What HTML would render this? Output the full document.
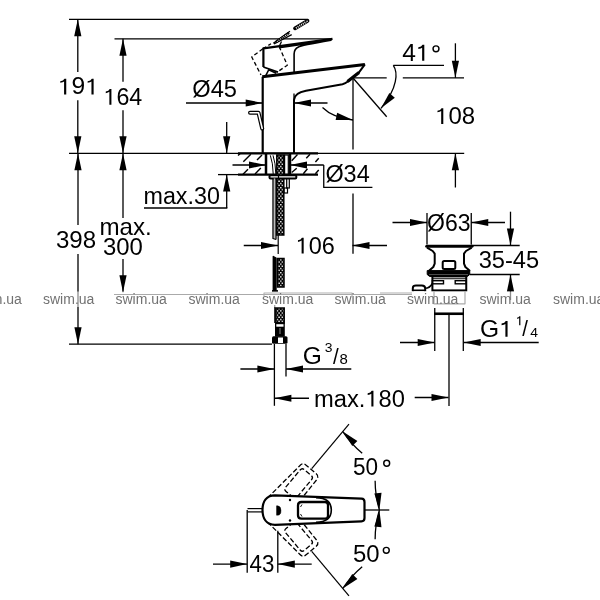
<!DOCTYPE html>
<html><head><meta charset="utf-8"><style>html,body{margin:0;padding:0;background:#fff;}svg{display:block;}text{font-family:"Liberation Sans",sans-serif;}</style></head>
<body><svg width="600" height="600" viewBox="0 0 600 600">
<rect width="600" height="600" fill="#fff"/>
<defs><pattern id="br" patternUnits="userSpaceOnUse" width="3.3" height="4.25" x="279.1" y="0">
<rect width="3.3" height="4.25" fill="#000"/><circle cx="1.65" cy="0.6" r="0.8" fill="#fff"/><circle cx="0" cy="2.7" r="0.8" fill="#fff"/><circle cx="3.3" cy="2.7" r="0.8" fill="#fff"/></pattern></defs>
<line x1="69.00" y1="19.30" x2="307.50" y2="19.30" stroke="#000" stroke-width="1.3" /><line x1="114.50" y1="38.80" x2="332.00" y2="38.80" stroke="#000" stroke-width="1.3" /><line x1="77.80" y1="19.30" x2="77.80" y2="72.00" stroke="#000" stroke-width="1.3" /><line x1="77.80" y1="100.30" x2="77.80" y2="153.30" stroke="#000" stroke-width="1.3" /><polygon points="77.80,19.30 74.20,36.30 81.40,36.30" fill="#000"/><polygon points="77.80,153.30 81.40,136.30 74.20,136.30" fill="#000"/><line x1="123.00" y1="38.80" x2="123.00" y2="81.70" stroke="#000" stroke-width="1.3" /><line x1="123.00" y1="110.30" x2="123.00" y2="153.30" stroke="#000" stroke-width="1.3" /><polygon points="123.00,38.80 119.40,55.80 126.60,55.80" fill="#000"/><polygon points="123.00,153.30 126.60,136.30 119.40,136.30" fill="#000"/><line x1="69.00" y1="153.30" x2="464.20" y2="153.30" stroke="#000" stroke-width="1.3" /><line x1="78.00" y1="153.30" x2="78.00" y2="225.00" stroke="#000" stroke-width="1.3" /><line x1="78.00" y1="254.00" x2="78.00" y2="344.20" stroke="#000" stroke-width="1.3" /><polygon points="78.00,153.30 74.40,170.30 81.60,170.30" fill="#000"/><polygon points="78.00,344.20 81.60,327.20 74.40,327.20" fill="#000"/><line x1="123.00" y1="153.30" x2="123.00" y2="218.00" stroke="#000" stroke-width="1.3" /><line x1="123.00" y1="259.00" x2="123.00" y2="292.30" stroke="#000" stroke-width="1.3" /><polygon points="123.00,153.30 119.40,170.30 126.60,170.30" fill="#000"/><polygon points="123.00,292.30 126.60,275.30 119.40,275.30" fill="#000"/><line x1="69.00" y1="344.20" x2="272.00" y2="344.20" stroke="#000" stroke-width="1.3" /><line x1="226.70" y1="153.30" x2="226.70" y2="122.00" stroke="#000" stroke-width="1.3" /><polygon points="226.70,153.30 230.30,136.30 223.10,136.30" fill="#000"/><line x1="226.70" y1="174.60" x2="226.70" y2="208.00" stroke="#000" stroke-width="1.3" /><polygon points="226.70,174.60 223.10,191.60 230.30,191.60" fill="#000"/><line x1="144.00" y1="208.00" x2="227.35" y2="208.00" stroke="#000" stroke-width="1.3" /><line x1="218.00" y1="174.60" x2="238.00" y2="174.60" stroke="#000" stroke-width="1.3" /><line x1="262.70" y1="103.00" x2="186.00" y2="103.00" stroke="#000" stroke-width="1.3" /><polygon points="262.70,103.00 245.70,99.40 245.70,106.60" fill="#000"/><line x1="294.00" y1="103.00" x2="327.50" y2="103.00" stroke="#000" stroke-width="1.3" /><polygon points="294.00,103.00 311.00,106.60 311.00,99.40" fill="#000"/><line x1="266.00" y1="165.00" x2="232.50" y2="165.00" stroke="#000" stroke-width="1.3" /><polygon points="266.00,165.00 249.00,161.40 249.00,168.60" fill="#000"/><line x1="290.00" y1="165.00" x2="323.75" y2="165.00" stroke="#000" stroke-width="1.3" /><polygon points="290.00,165.00 307.00,168.60 307.00,161.40" fill="#000"/><polyline points="323.75,165.00 323.75,187.40 372.40,187.40" fill="none" stroke="#000" stroke-width="1.3" stroke-linejoin="round" /><line x1="353.00" y1="77.80" x2="353.00" y2="149.60" stroke="#000" stroke-width="1.3" /><line x1="353.00" y1="193.60" x2="353.00" y2="253.75" stroke="#000" stroke-width="1.3" /><line x1="353.00" y1="77.80" x2="386.70" y2="77.80" stroke="#000" stroke-width="1.3" /><line x1="402.80" y1="77.80" x2="464.00" y2="77.80" stroke="#000" stroke-width="1.3" /><line x1="353.00" y1="78.00" x2="386.70" y2="116.70" stroke="#000" stroke-width="1.3" /><line x1="393.30" y1="65.30" x2="444.00" y2="65.30" stroke="#000" stroke-width="1.3" /><path d="M393.3,65.3 C398,72 398,88 381,108.3" fill="none" stroke="#000" stroke-width="1.3" stroke-linejoin="round" /><polygon points="381.00,108.30 394.81,97.75 389.35,93.06" fill="#000"/><line x1="455.40" y1="77.80" x2="455.40" y2="43.30" stroke="#000" stroke-width="1.3" /><polygon points="455.40,77.80 459.00,60.80 451.80,60.80" fill="#000"/><line x1="455.40" y1="153.30" x2="455.40" y2="187.50" stroke="#000" stroke-width="1.3" /><polygon points="455.40,153.30 451.80,170.30 459.00,170.30" fill="#000"/><path d="M322.5,107.5 C330,115 340,118.5 353,120" fill="none" stroke="#000" stroke-width="1.3" stroke-linejoin="round" /><polygon points="353.00,120.00 337.16,112.85 335.62,119.88" fill="#000"/><line x1="278.00" y1="245.50" x2="243.75" y2="245.50" stroke="#000" stroke-width="1.3" /><polygon points="278.00,245.50 261.00,241.90 261.00,249.10" fill="#000"/><line x1="352.50" y1="245.50" x2="387.00" y2="245.50" stroke="#000" stroke-width="1.3" /><polygon points="352.50,245.50 369.50,249.10 369.50,241.90" fill="#000"/><line x1="427.00" y1="213.00" x2="427.00" y2="244.50" stroke="#000" stroke-width="1.3" /><line x1="471.25" y1="213.00" x2="471.25" y2="244.50" stroke="#000" stroke-width="1.3" /><line x1="427.00" y1="222.50" x2="392.50" y2="222.50" stroke="#000" stroke-width="1.3" /><polygon points="427.00,222.50 410.00,218.90 410.00,226.10" fill="#000"/><line x1="471.25" y1="222.50" x2="505.00" y2="222.50" stroke="#000" stroke-width="1.3" /><polygon points="471.25,222.50 488.25,226.10 488.25,218.90" fill="#000"/><line x1="510.50" y1="245.50" x2="510.50" y2="211.70" stroke="#000" stroke-width="1.3" /><polygon points="510.50,245.50 514.10,228.50 506.90,228.50" fill="#000"/><line x1="471.00" y1="245.50" x2="519.70" y2="245.50" stroke="#000" stroke-width="1.3" /><line x1="470.00" y1="274.50" x2="519.70" y2="274.50" stroke="#000" stroke-width="1.3" /><line x1="510.50" y1="274.50" x2="510.50" y2="300.00" stroke="#000" stroke-width="1.3" /><polygon points="510.50,274.50 506.90,291.50 514.10,291.50" fill="#000"/><line x1="434.70" y1="342.50" x2="400.00" y2="342.50" stroke="#000" stroke-width="1.3" /><polygon points="434.70,342.50 417.70,338.90 417.70,346.10" fill="#000"/><line x1="463.70" y1="342.50" x2="538.70" y2="342.50" stroke="#000" stroke-width="1.3" /><polygon points="463.70,342.50 480.70,346.10 480.70,338.90" fill="#000"/><line x1="274.40" y1="369.00" x2="240.40" y2="369.00" stroke="#000" stroke-width="1.3" /><polygon points="274.40,369.00 257.40,365.40 257.40,372.60" fill="#000"/><line x1="286.00" y1="369.00" x2="351.30" y2="369.00" stroke="#000" stroke-width="1.3" /><polygon points="286.00,369.00 303.00,372.60 303.00,365.40" fill="#000"/><line x1="274.40" y1="398.25" x2="309.00" y2="398.25" stroke="#000" stroke-width="1.3" /><polygon points="274.40,398.25 291.40,401.85 291.40,394.65" fill="#000"/><line x1="448.50" y1="397.50" x2="414.70" y2="397.50" stroke="#000" stroke-width="1.3" /><polygon points="448.50,397.50 431.50,393.90 431.50,401.10" fill="#000"/><path d="M262.7,153.3 L262.7,76.8" fill="none" stroke="#000" stroke-width="2.2" stroke-linejoin="round" /><path d="M262.2,76.8 L364.9,64.4" fill="none" stroke="#000" stroke-width="3" stroke-linejoin="round" /><path d="M294,153.3 L294,100 Q294.6,92.8 306,90.8 L342.5,84.2 Q345.5,83.5 347.5,81.8 L359,72.3 L364.9,64.4" fill="none" stroke="#000" stroke-width="2" stroke-linejoin="round" /><line x1="294.00" y1="93.50" x2="294.00" y2="100.00" stroke="#000" stroke-width="1.3" /><path d="M347.5,81.6 L359,72.5" fill="none" stroke="#000" stroke-width="3.2" stroke-linejoin="round" /><path d="M263.4,67 L263.4,48.3 L332.5,38.8" fill="none" stroke="#000" stroke-width="2.2" stroke-linejoin="round" /><path d="M279,47.6 L331,40.2 Q300,45.5 298.5,47 Q294.1,49 294.1,54 L294.1,72.5" fill="none" stroke="#000" stroke-width="1.6" stroke-linejoin="round" /><path d="M263.4,67 L278,72.2" fill="none" stroke="#000" stroke-width="1.8" stroke-linejoin="round" /><path d="M265.75,75.7 L268.7,69.8 L276.25,73.3" fill="none" stroke="#000" stroke-width="1.5" stroke-linejoin="round" /><polyline points="262.80,48.80 251.75,57.00 261.00,75.00" fill="none" stroke="#000" stroke-width="1.3" stroke-linejoin="round" stroke-dasharray="4 2.5"/><polyline points="279.20,46.50 287.30,65.20 278.00,71.50" fill="none" stroke="#000" stroke-width="1.3" stroke-linejoin="round" stroke-dasharray="4 2.5"/><path d="M273.3,43.3 L290,31.3 M274,44 L291.7,34.6" fill="none" stroke="#000" stroke-width="1.2" stroke-linejoin="round" /><path d="M276,42 L289,32.8" fill="none" stroke="#000" stroke-width="2.6" stroke-linejoin="round" /><path d="M277,41.6 L288.5,33.4" fill="none" stroke="#fff" stroke-width="1.2" stroke-linejoin="round" stroke-dasharray="0.8 1.2"/><path d="M262.8,48.8 L271,43.8" fill="none" stroke="#000" stroke-width="1.3" stroke-linejoin="round" stroke-dasharray="4 2.5"/><line x1="281.50" y1="41.50" x2="279.20" y2="46.50" stroke="#000" stroke-width="1.3" /><path d="M295,28.3 L307.5,20.8" fill="none" stroke="#000" stroke-width="3.8" stroke-linejoin="round" stroke-linecap="round"/><path d="M296,28 L306.5,21.7" fill="none" stroke="#fff" stroke-width="2" stroke-linejoin="round" stroke-dasharray="0.9 1.1"/><line x1="306.70" y1="21.40" x2="307.70" y2="21.00" stroke="#fff" stroke-width="1.2" /><path d="M250,112.7 L258.5,112.7 L262.2,128.5" fill="none" stroke="#000" stroke-width="4" stroke-linejoin="round" stroke-linecap="round"/><path d="M250,112.7 L258.5,112.7 L262.2,128.5" fill="none" stroke="#fff" stroke-width="1.6" stroke-linejoin="round" stroke-linecap="round"/><line x1="238.00" y1="153.30" x2="318.00" y2="153.30" stroke="#000" stroke-width="2.2" /><line x1="238.00" y1="174.60" x2="318.00" y2="174.60" stroke="#000" stroke-width="2.2" /><line x1="266.00" y1="153.30" x2="266.00" y2="174.60" stroke="#000" stroke-width="2.5" /><line x1="290.00" y1="153.30" x2="290.00" y2="174.60" stroke="#000" stroke-width="2.5" /><line x1="238.00" y1="155.50" x2="240.00" y2="153.70" stroke="#000" stroke-width="1.4" /><line x1="243.30" y1="161.75" x2="250.80" y2="154.25" stroke="#000" stroke-width="1.4" /><line x1="257.00" y1="160.00" x2="262.00" y2="155.00" stroke="#000" stroke-width="1.4" /><line x1="243.00" y1="174.25" x2="248.00" y2="169.25" stroke="#000" stroke-width="1.4" /><line x1="255.00" y1="174.00" x2="260.80" y2="168.00" stroke="#000" stroke-width="1.4" /><line x1="291.70" y1="160.80" x2="297.50" y2="154.60" stroke="#000" stroke-width="1.4" /><line x1="306.25" y1="158.30" x2="310.00" y2="154.20" stroke="#000" stroke-width="1.4" /><line x1="315.40" y1="162.00" x2="318.75" y2="158.30" stroke="#000" stroke-width="1.4" /><line x1="291.70" y1="172.50" x2="296.70" y2="168.30" stroke="#000" stroke-width="1.4" /><line x1="303.30" y1="173.75" x2="307.50" y2="168.75" stroke="#000" stroke-width="1.4" /><line x1="315.40" y1="173.75" x2="318.75" y2="170.00" stroke="#000" stroke-width="1.4" /><path d="M270.3,155.3 Q273,163 273.2,174" fill="none" stroke="#000" stroke-width="1.0" stroke-linejoin="round" /><path d="M273,155.3 Q275.6,163 275.8,174" fill="none" stroke="#000" stroke-width="1.0" stroke-linejoin="round" /><rect x="284.6" y="155" width="3.7" height="19.5" fill="none" stroke="#000" stroke-width="1.2"/><rect x="286.7" y="178.4" width="2.6" height="9.6" fill="none" stroke="#000" stroke-width="1.2"/><rect x="284" y="188" width="3.5" height="5" fill="none" stroke="#000" stroke-width="1.2"/><rect x="276.8" y="155" width="7" height="80" fill="url(#br)" stroke="#000" stroke-width="1.5"/><rect x="277.5" y="258.5" width="6.5" height="28.5" fill="url(#br)" stroke="#000" stroke-width="1.5"/><rect x="275.8" y="308" width="8.4" height="15" fill="url(#br)" stroke="#000" stroke-width="1.5"/><rect x="269.5" y="175.3" width="26.8" height="3.1" rx="1" fill="#fff" stroke="#000" stroke-width="2"/><line x1="278.50" y1="175.30" x2="278.50" y2="178.40" stroke="#000" stroke-width="1.2" /><rect x="273.6" y="178.4" width="1.8" height="60.5" fill="#bbb"/><polyline points="273.00,178.40 273.00,238.50 276.00,239.50" fill="none" stroke="#000" stroke-width="1.3" stroke-linejoin="round" /><line x1="276.00" y1="178.40" x2="276.00" y2="239.50" stroke="#000" stroke-width="1.3" /><line x1="278.20" y1="235.00" x2="278.20" y2="254.00" stroke="#000" stroke-width="1.2" /><path d="M273.3,291 L273.3,256.5 L276,258 L276,291" fill="#000" stroke="#000" stroke-width="1.4" stroke-linejoin="round" /><line x1="272.00" y1="291.00" x2="278.00" y2="291.00" stroke="#000" stroke-width="1.8" /><line x1="274.75" y1="305.00" x2="274.75" y2="323.00" stroke="#000" stroke-width="1.1" /><rect x="275" y="323" width="9.8" height="13.7" fill="#000"/><rect x="276.3" y="324.2" width="7.2" height="2.5" fill="#fff"/><line x1="280.00" y1="328.00" x2="280.00" y2="334.00" stroke="#888" stroke-width="1" /><rect x="272" y="336.25" width="15.5" height="7.5" rx="1.5" fill="#000"/><rect x="278" y="337.5" width="5" height="5.5" fill="#fff"/><line x1="274.40" y1="344.00" x2="274.40" y2="405.80" stroke="#000" stroke-width="1.3" /><line x1="286.00" y1="344.00" x2="286.00" y2="376.60" stroke="#000" stroke-width="1.3" /><path d="M426.7,246.3 L472,246.3" fill="none" stroke="#000" stroke-width="3" stroke-linejoin="round" stroke-linecap="round"/><path d="M427,247.7 L432.7,251 L434.7,253.7 L434.7,263.7 L433.3,267 L428.7,271" fill="none" stroke="#000" stroke-width="2" stroke-linejoin="round" /><path d="M471.7,247.7 L466,251 L464,253.7 L464,263.7 L465.4,267 L470,271" fill="none" stroke="#000" stroke-width="2" stroke-linejoin="round" /><rect x="442.7" y="261" width="12.6" height="8" rx="1.5" fill="none" stroke="#000" stroke-width="2"/><path d="M427.2,270.6 L469.75,270.6 L469.75,274.5 L467.5,276.4 L429.5,276.4 L427.2,274.5 Z" fill="#000" stroke="#000" stroke-width="1" stroke-linejoin="round" /><line x1="429.00" y1="274.60" x2="468.00" y2="274.60" stroke="#777" stroke-width="0.7" /><rect x="432.4" y="276.4" width="33.85" height="14" fill="none" stroke="#000" stroke-width="2"/><line x1="432.40" y1="278.75" x2="466.25" y2="278.75" stroke="#000" stroke-width="1" /><rect x="432.4" y="280.7" width="11.1" height="3.1" fill="none" stroke="#000" stroke-width="1.4"/><rect x="455.2" y="280.7" width="11.05" height="3.1" fill="none" stroke="#000" stroke-width="1.4"/><path d="M412.8,291.2 L412.8,288 Q413,285.6 416,285.6 L421.8,285.6 Q425.2,285.8 425.2,288.5 L425.2,291.2" fill="none" stroke="#000" stroke-width="2" stroke-linejoin="round" /><line x1="412.80" y1="290.30" x2="425.20" y2="290.30" stroke="#000" stroke-width="1.6" /><path d="M425.2,288.3 Q429.5,288.3 432.4,283.5" fill="none" stroke="#000" stroke-width="1.6" stroke-linejoin="round" /><line x1="434.75" y1="308.00" x2="434.75" y2="351.00" stroke="#000" stroke-width="1.3" /><line x1="463.30" y1="308.00" x2="463.30" y2="351.00" stroke="#000" stroke-width="1.3" /><line x1="434.00" y1="313.75" x2="464.00" y2="313.75" stroke="#000" stroke-width="2.6" /><line x1="449.00" y1="314.00" x2="449.00" y2="406.00" stroke="#000" stroke-width="1.3" /><path d="M267.44,498.06 L299.75,465.78 Q302.64,462.33 306.09,465.22 L316.05,473.58 Q319.49,476.47 316.60,479.92 L298.67,502.07" fill="none" stroke="#000" stroke-width="1.3" stroke-linejoin="round" stroke-dasharray="5 2.3"/><path d="M297.15,496.88 L311.61,479.64 Q313.54,477.35 311.24,475.42 L304.34,469.63 Q302.05,467.70 300.12,470.00 L285.66,487.24 Q283.73,489.54 286.03,491.47 L292.92,497.25 Q295.22,499.18 297.15,496.88 Z" fill="none" stroke="#000" stroke-width="1.3" stroke-linejoin="round" stroke-dasharray="5 2.3"/><line x1="311.71" y1="468.63" x2="348.99" y2="424.20" stroke="#000" stroke-width="1.2" /><path d="M342.82,588.44 A102.4,102.4 0 0 1 362.19,566.82" fill="none" stroke="#000" stroke-width="1.3" stroke-linejoin="round" /><path d="M375.13,539.25 A102.4,102.4 0 0 1 379.40,510.00" fill="none" stroke="#000" stroke-width="1.3" stroke-linejoin="round" /><polygon points="342.82,588.44 357.39,578.97 352.30,573.88" fill="#000"/><polygon points="379.40,510.00 374.33,526.62 381.50,527.25" fill="#000"/><path d="M267.44,521.94 L299.75,554.22 Q302.64,557.67 306.09,554.78 L316.05,546.42 Q319.49,543.53 316.60,540.08 L298.67,517.93" fill="none" stroke="#000" stroke-width="1.3" stroke-linejoin="round" stroke-dasharray="5 2.3"/><path d="M297.15,523.12 L311.61,540.36 Q313.54,542.65 311.24,544.58 L304.34,550.37 Q302.05,552.30 300.12,550.00 L285.66,532.76 Q283.73,530.46 286.03,528.53 L292.92,522.75 Q295.22,520.82 297.15,523.12 Z" fill="none" stroke="#000" stroke-width="1.3" stroke-linejoin="round" stroke-dasharray="5 2.3"/><line x1="311.71" y1="551.37" x2="348.99" y2="595.80" stroke="#000" stroke-width="1.2" /><path d="M342.82,431.56 A102.4,102.4 0 0 0 362.19,453.18" fill="none" stroke="#000" stroke-width="1.3" stroke-linejoin="round" /><path d="M375.13,480.75 A102.4,102.4 0 0 0 379.40,510.00" fill="none" stroke="#000" stroke-width="1.3" stroke-linejoin="round" /><polygon points="342.82,431.56 352.30,446.12 357.39,441.03" fill="#000"/><polygon points="379.40,510.00 381.50,492.75 374.33,493.38" fill="#000"/><path d="M275,495.3 L361.5,498.7 Q364.5,498.9 364.5,502 L364.5,518 Q364.5,521.3 361.5,521.3 L275,524.8 C266,524.8 262.5,518 262.5,510 C262.5,502 266,495.3 275,495.3 Z" fill="#fff" stroke="#000" stroke-width="2.2" stroke-linejoin="round" /><path d="M316,497.6 Q331.3,498 331.3,510 Q331.3,522 316,522.3" fill="none" stroke="#000" stroke-width="1.6" stroke-linejoin="round" /><path d="M276.5,505.8 L277.8,505.8 Q281,506.3 281,510.5 Q281,515.2 277.8,515.2 L276.5,515.2 Z" fill="#000" stroke="#000" stroke-width="0.4" stroke-linejoin="round" /><circle cx="290" cy="500" r="1.2" fill="#000"/><circle cx="290" cy="520.5" r="1.2" fill="#000"/><path d="M301.5,502 L325,502 Q328,502 328,505 L328,515.7 Q328,518.7 325,518.7 L301.5,518.7 Q298,518.7 298,515.2 L298,505.5 Q298,502 301.5,502 Z" fill="none" stroke="#000" stroke-width="2.3" stroke-linejoin="round" /><path d="M302,504.5 L300.5,507 M302,516.5 L300.5,514" fill="none" stroke="#000" stroke-width="0.9" stroke-linejoin="round" /><line x1="247.50" y1="508.60" x2="262.50" y2="508.60" stroke="#000" stroke-width="1.2" /><line x1="247.50" y1="511.90" x2="262.50" y2="511.90" stroke="#000" stroke-width="1.2" /><line x1="247.20" y1="510.00" x2="247.20" y2="572.70" stroke="#000" stroke-width="1.3" /><line x1="277.80" y1="530.80" x2="277.80" y2="572.70" stroke="#000" stroke-width="1.3" /><line x1="247.20" y1="564.10" x2="213.00" y2="564.10" stroke="#000" stroke-width="1.3" /><polygon points="247.20,564.10 230.20,560.50 230.20,567.70" fill="#000"/><line x1="277.80" y1="564.10" x2="311.70" y2="564.10" stroke="#000" stroke-width="1.3" /><polygon points="277.80,564.10 294.80,567.70 294.80,560.50" fill="#000"/><line x1="364.50" y1="510.00" x2="389.30" y2="510.00" stroke="#000" stroke-width="1.3" /><rect x="0" y="291.5" width="600" height="15.5" fill="#fff" fill-opacity="0.55"/><line x1="114.00" y1="294.50" x2="412.00" y2="294.50" stroke="#aaa" stroke-width="1.2" /><line x1="380.00" y1="293.00" x2="412.00" y2="293.00" stroke="#bbb" stroke-width="1.2" /><polyline points="264.00,296.00 264.00,293.00 352.00,293.00 352.00,296.00" fill="none" stroke="#b0b0b0" stroke-width="1.1" stroke-linejoin="round" /><polyline points="434.00,291.00 434.00,303.80 465.00,303.80 465.00,291.00" fill="none" stroke="#aaa" stroke-width="1.2" stroke-linejoin="round" />
<g style="opacity:0.999"><g transform="translate(57.89,94.45) scale(1.070,1)"><text x="0" y="0" font-size="23" fill="#000"> 9 </text><path transform="translate(0.000,0) scale(0.01123,-0.01123)" d="M515,0 L515,1150 Q430,1065 197,1035 L197,1185 Q470,1215 545,1409 L696,1409 L696,0 Z" fill="#000"/><path transform="translate(25.583,0) scale(0.01123,-0.01123)" d="M515,0 L515,1150 Q430,1065 197,1035 L197,1185 Q470,1215 545,1409 L696,1409 L696,0 Z" fill="#000"/></g><g transform="translate(103.52,104.75) scale(1.011,1)"><text x="0" y="0" font-size="23" fill="#000"> 64</text><path transform="translate(0.000,0) scale(0.01123,-0.01123)" d="M515,0 L515,1150 Q430,1065 197,1035 L197,1185 Q470,1215 545,1409 L696,1409 L696,0 Z" fill="#000"/></g><g transform="translate(55.95,247.75) scale(1.048,1)"><text x="0" y="0" font-size="23" fill="#000">398</text></g><g transform="translate(99.42,234.75) scale(1.051,1)"><text x="0" y="0" font-size="23" fill="#000">max.</text></g><g transform="translate(102.96,254.75) scale(1.041,1)"><text x="0" y="0" font-size="23" fill="#000">300</text></g><g transform="translate(192.27,96.95) scale(1.029,1)"><text x="0" y="0" font-size="23" fill="#000">Ø45</text></g><g transform="translate(143.48,204.15) scale(1.014,1)"><text x="0" y="0" font-size="23" fill="#000">max.30</text></g><g transform="translate(325.38,181.85) scale(1.020,1)"><text x="0" y="0" font-size="23" fill="#000">Ø34</text></g><g transform="translate(402.26,60.65) scale(1.070,1)"><text x="0" y="0" font-size="23" fill="#000">4 </text><path transform="translate(12.792,0) scale(0.01123,-0.01123)" d="M515,0 L515,1150 Q430,1065 197,1035 L197,1185 Q470,1215 545,1409 L696,1409 L696,0 Z" fill="#000"/></g><g transform="translate(435.15,123.95) scale(1.043,1)"><text x="0" y="0" font-size="23" fill="#000"> 08</text><path transform="translate(0.000,0) scale(0.01123,-0.01123)" d="M515,0 L515,1150 Q430,1065 197,1035 L197,1185 Q470,1215 545,1409 L696,1409 L696,0 Z" fill="#000"/></g><g transform="translate(295.70,253.50) scale(1.021,1)"><text x="0" y="0" font-size="23" fill="#000"> 06</text><path transform="translate(0.000,0) scale(0.01123,-0.01123)" d="M515,0 L515,1150 Q430,1065 197,1035 L197,1185 Q470,1215 545,1409 L696,1409 L696,0 Z" fill="#000"/></g><g transform="translate(427.00,230.50) scale(1.000,1)"><text x="0" y="0" font-size="23" fill="#000">Ø63</text></g><g transform="translate(478.67,268.45) scale(1.028,1)"><text x="0" y="0" font-size="23" fill="#000">35-45</text></g><g transform="translate(480.06,336.85) scale(1.070,1)"><text x="0" y="0" font-size="23" fill="#000">G </text><path transform="translate(17.890,0) scale(0.01123,-0.01123)" d="M515,0 L515,1150 Q430,1065 197,1035 L197,1185 Q470,1215 545,1409 L696,1409 L696,0 Z" fill="#000"/></g><g transform="translate(515.66,325.20) scale(1.070,1)"><text x="0" y="0" font-size="13" fill="#000"> </text><path transform="translate(0.000,0) scale(0.00635,-0.00635)" d="M515,0 L515,1150 Q430,1065 197,1035 L197,1185 Q470,1215 545,1409 L696,1409 L696,0 Z" fill="#000"/></g><g transform="translate(522.25,336.00) scale(0.930,1)"><text x="0" y="0" font-size="22" fill="#000">/</text></g><g transform="translate(530.13,336.60) scale(1.070,1)"><text x="0" y="0" font-size="13" fill="#000">4</text></g><g transform="translate(302.87,363.55) scale(1.067,1)"><text x="0" y="0" font-size="23" fill="#000">G</text></g><g transform="translate(324.66,352.25) scale(1.070,1)"><text x="0" y="0" font-size="13" fill="#000">3</text></g><g transform="translate(333.00,364.25) scale(0.930,1)"><text x="0" y="0" font-size="22" fill="#000">/</text></g><g transform="translate(339.46,364.25) scale(1.070,1)"><text x="0" y="0" font-size="14" fill="#000">8</text></g><g transform="translate(313.95,406.55) scale(1.032,1)"><text x="0" y="0" font-size="23" fill="#000">max. 80</text><path transform="translate(49.841,0) scale(0.01123,-0.01123)" d="M515,0 L515,1150 Q430,1065 197,1035 L197,1185 Q470,1215 545,1409 L696,1409 L696,0 Z" fill="#000"/></g><g transform="translate(353.02,475.05) scale(0.981,1)"><text x="0" y="0" font-size="23" fill="#000">50</text></g><g transform="translate(352.96,562.45) scale(1.040,1)"><text x="0" y="0" font-size="23" fill="#000">50</text></g><g transform="translate(249.51,572.05) scale(0.971,1)"><text x="0" y="0" font-size="23" fill="#000">43</text></g><circle cx="436" cy="48.8" r="2.95" fill="none" stroke="#000" stroke-width="1.45"/><circle cx="386.7" cy="463.3" r="2.95" fill="none" stroke="#000" stroke-width="1.45"/><circle cx="386.3" cy="550.3" r="2.95" fill="none" stroke="#000" stroke-width="1.45"/><text x="-29.5" y="303.7" font-size="14" fill="#727272">swim.ua</text><text x="43" y="303.7" font-size="14" fill="#727272">swim.ua</text><text x="115.5" y="303.7" font-size="14" fill="#727272">swim.ua</text><text x="188.5" y="303.7" font-size="14" fill="#727272">swim.ua</text><text x="262" y="303.7" font-size="14" fill="#727272">swim.ua</text><text x="334.5" y="303.7" font-size="14" fill="#727272">swim.ua</text><text x="407" y="303.7" font-size="14" fill="#727272">swim.ua</text><text x="479.5" y="303.7" font-size="14" fill="#727272">swim.ua</text><text x="553" y="303.7" font-size="14" fill="#727272">swim.ua</text></g>
</svg></body></html>
